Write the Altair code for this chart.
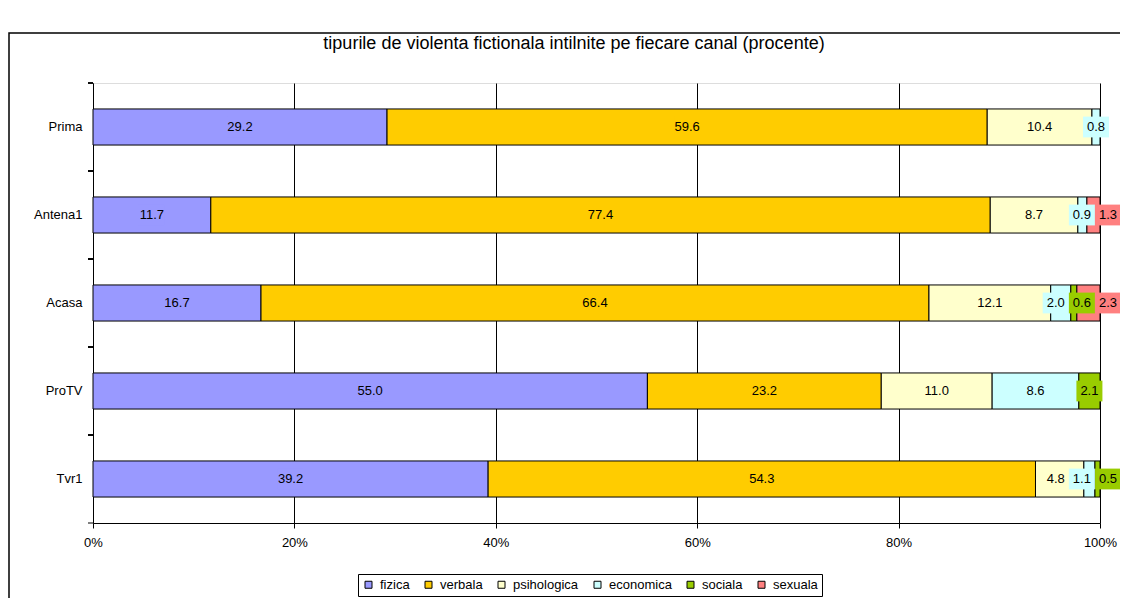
import altair as alt
import pandas as pd

channels = ["Prima", "Antena1", "Acasa", "ProTV", "Tvr1"]
types = ["fizica", "verbala", "psihologica", "economica", "sociala", "sexuala"]
colors = ["#9999FF", "#FFCC00", "#FFFFCC", "#CCFFFF", "#99CC00", "#FF8080"]

fizica = [29.2, 11.7, 16.7, 55.0, 39.2]
verbala = [59.6, 77.4, 66.4, 23.2, 54.3]
psihologica = [10.4, 8.7, 12.1, 11.0, 4.8]
economica = [0.8, 0.9, 2.0, 8.6, 1.1]
sociala = [0.0, 0.0, 0.6, 2.1, 0.5]
sexuala = [0.0, 1.3, 2.3, 0.0, 0.0]

x_ticks = [0, 20, 40, 60, 80, 100]
title_text = "tipurile de violenta fictionala intilnite pe fiecare canal (procente)"

series = [fizica, verbala, psihologica, economica, sociala, sexuala]
rows = []
label_gap = 2.6
label_max = 100.8
for i, ch in enumerate(channels):
    vals = [s[i] for s in series]
    total = sum(vals)
    cum = 0.0
    prev = -100.0
    ch_rows = []
    for t, v in zip(types, vals):
        if v <= 0:
            continue
        s = cum / total * 100
        e = (cum + v) / total * 100
        cum += v
        mid = (s + e) / 2
        lab = max(mid, prev + label_gap)
        prev = lab
        ch_rows.append(dict(channel=ch, type=t, value=v, start=s, end=e, labx=lab))
    nxt = label_max + label_gap
    for r in reversed(ch_rows):
        r["labx"] = min(r["labx"], nxt - label_gap)
        nxt = r["labx"]
    rows.extend(ch_rows)
df = pd.DataFrame(rows)

FONT = "Liberation Sans"

y_enc = alt.Y("channel:N", sort=channels,
              scale=alt.Scale(paddingInner=0.59, paddingOuter=0.295),
              axis=alt.Axis(title=None, ticks=False, domainColor="black", domainWidth=1,
                            labelFont=FONT, labelFontSize=13, labelColor="black",
                            labelPadding=11))
x_scale = alt.Scale(domain=[0, 100], nice=False)
color_enc = alt.Color("type:N", scale=alt.Scale(domain=types, range=colors),
                      legend=alt.Legend(title=None, orient="none", legendX=265, legendY=491,
                                        direction="horizontal", symbolType="square",
                                        symbolSize=49, symbolStrokeColor="black",
                                        symbolStrokeWidth=1, labelFont=FONT,
                                        labelFontSize=13, labelColor="black",
                                        labelOffset=5, columnPadding=12, padding=4,
                                        strokeColor="black", fillColor="white"))

base = alt.Chart(df)

bars = base.mark_bar(stroke="black", strokeWidth=1).encode(
    y=y_enc,
    x=alt.X("start:Q", scale=x_scale,
            axis=alt.Axis(title=None, values=x_ticks, labelExpr="datum.value + '%'",
                          grid=True, gridColor="black", gridOpacity=1, gridWidth=1,
                          domainColor="black", tickColor="black", tickSize=5,
                          labelFont=FONT, labelFontSize=13, labelColor="black",
                          labelPadding=8, labelFlush=False, labelOverlap=False)),
    x2="end:Q",
    color=color_enc,
)

boxes = base.mark_point(shape="M-1,-0.8H1V0.8H-1Z", filled=True, size=676,
                        opacity=1, strokeWidth=0).encode(
    y=alt.Y("channel:N", sort=channels),
    x=alt.X("labx:Q", scale=x_scale),
    color=alt.Color("type:N", legend=None),
)

texts = base.mark_text(font=FONT, fontSize=13, color="black").encode(
    y=alt.Y("channel:N", sort=channels),
    x=alt.X("labx:Q", scale=x_scale),
    text=alt.Text("value:Q", format=".1f"),
)

yticks = base.mark_rule(color="black", strokeWidth=1, yOffset=-44).encode(
    y=alt.Y("channel:N", sort=channels),
    x=alt.value(-5), x2=alt.value(0),
)

deco = alt.Chart(alt.Data(values=[{"k": 1}]))
last_tick = deco.mark_rule(color="black", strokeWidth=1).encode(
    y=alt.value(440), x=alt.value(-5), x2=alt.value(0))
border = deco.mark_rect(fillOpacity=0, stroke="black", strokeWidth=1.5).encode(
    x=alt.value(-84), x2=alt.value(1060), y=alt.value(-50), y2=alt.value(560))
title = deco.mark_text(text=title_text, font=FONT, fontSize=18, color="black",
                       align="center", baseline="middle").encode(
    x=alt.value(481), y=alt.value(-39))

chart = alt.layer(bars, boxes, texts, yticks, last_tick, border, title).properties(
    width=1007, height=440,
    padding={"left": 85, "top": 75, "right": 20, "bottom": 75},
    autosize=alt.AutoSizeParams(type="none"),
).configure_view(stroke="transparent").configure(background="white")

chart.save("out.html", embed_options={"renderer": "svg", "actions": False})
